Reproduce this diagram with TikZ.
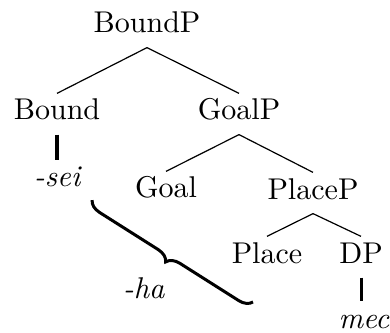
\documentclass[tikz,border=0pt]{standalone}
\usetikzlibrary{decorations.pathreplacing}
\begin{document}
\begin{tikzpicture}[x=0.333pt,y=-0.333pt,
  lbl/.style={anchor=base, inner sep=3pt, text height=5.67pt, text depth=1.67pt},
  edge/.style={line width=0.4pt},
  unary/.style={line width=1pt},
  bracestyle/.style={decorate, decoration={brace, amplitude=4.3pt}, line width=1pt}]
\useasboundingbox (0,0) rectangle (390,333);
\node[lbl] (boundp) at (147,33) {BoundP};
\node[lbl] (bound) at (57,120) {Bound};
\node[lbl] (goalp) at (239,120) {GoalP};
\node[lbl] (sei) at (58,187) {\textit{-sei}};
\node[lbl] (goal) at (166,198) {Goal};
\node[lbl] (placep) at (313,199) {PlaceP};
\node[lbl] (place) at (267,263) {Place};
\node[lbl] (dp) at (361,263) {DP};
\node[lbl] (ha) at (144,298) {\textit{-ha}};
\node[lbl] (mec) at (364,328) {\textit{mec}};
\coordinate (bs) at (92,200);
\coordinate (be) at (253,302);
\draw[edge] (boundp.south) -- (bound.north);
\draw[edge] (boundp.south) -- (goalp.north);
\draw[edge] (goalp.south) -- (goal.north);
\draw[edge] (goalp.south) -- (placep.north);
\draw[edge] (placep.south) -- (place.north);
\draw[edge] (placep.south) -- (dp.north);
\draw[unary] (bound.south) -- (bound.south |- sei.north);
\draw[unary] (dp.south) -- (dp.south |- mec.north);
\draw[bracestyle] (be) -- (bs);
\end{tikzpicture}
\end{document}
